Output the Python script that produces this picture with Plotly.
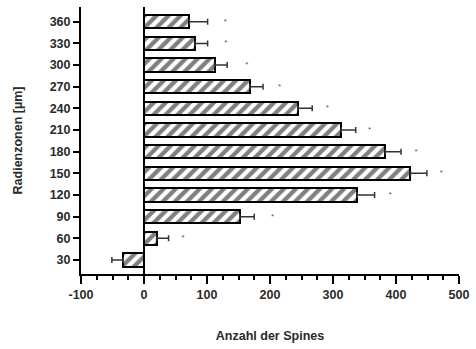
import plotly.graph_objects as go

zones = [30, 60, 90, 120, 150, 180, 210, 240, 270, 300, 330, 360]
zone_labels = [str(z) for z in zones]
spines = [-33, 20, 152, 338, 423, 383, 313, 244, 168, 112, 81, 72]
err_plus = [0, 19, 23, 28, 26, 25, 23, 23, 21, 20, 20, 29]
err_minus = [18, 0, 0, 0, 0, 0, 0, 0, 0, 0, 0, 0]
sig_x = [None, 62, 204, 391, 472, 432, 358, 291, 215, 163, 130, 129]
sig_text = ["", "*", "*", "*", "*", "*", "*", "*", "*", "*", "*", "*"]
x_ticks = [-100, 0, 100, 200, 300, 400, 500]
x_tick_labels = ["-100", "0", "100", "200", "300", "400", "500"]

font_family = "Liberation Sans, Arial, sans-serif"
txt = "#2a2a2a"

fig = go.Figure()
fig.add_trace(go.Bar(
    x=spines, y=zones, orientation="h", width=18.5,
    marker=dict(color="white",
                line=dict(color="black", width=2),
                pattern=dict(shape="/", fgcolor="black", bgcolor="white",
                             size=8.5, solidity=0.5)),
    error_x=dict(type="data", symmetric=False, array=err_plus,
                 arrayminus=err_minus, color="#333333", thickness=1.5, width=3),
    showlegend=False,
))
fig.add_trace(go.Scatter(
    x=[s for s in sig_x if s is not None],
    y=[z for z, s in zip(zones, sig_x) if s is not None],
    mode="text", text=[t for t, s in zip(sig_text, sig_x) if s is not None],
    textfont=dict(size=8, color="#555555", family=font_family),
    textposition="middle center", showlegend=False, hoverinfo="skip",
))

fig.update_layout(
    width=476, height=349,
    margin=dict(l=81, r=10, t=7, b=75),
    paper_bgcolor="white", plot_bgcolor="white",
    font=dict(family=font_family, size=12.5, color=txt),
    bargap=0,
)
fig.update_xaxes(
    range=[-100, 500], tickvals=x_ticks, ticktext=x_tick_labels,
    ticklabeloverflow="allow",
    showgrid=False, showline=True, linecolor="black", linewidth=2,
    ticks="outside", ticklen=8, tickwidth=2, tickcolor="black",
    minor=dict(dtick=25, tick0=0, ticks="outside", ticklen=4, tickwidth=2,
               tickcolor="black", showgrid=False),
    zeroline=True, zerolinecolor="black", zerolinewidth=2,
    tickfont=dict(size=12.5, weight="bold", color=txt),
    title=dict(text="Anzahl der Spines", standoff=30,
               font=dict(size=12.5, weight="bold", color=txt)),
)
fig.update_yaxes(
    range=[10.6, 380.4], tickvals=zones, ticktext=zone_labels,
    showgrid=False, showline=True, linecolor="black", linewidth=2,
    ticks="outside", ticklen=6, tickwidth=2, tickcolor="black",
    zeroline=False,
    tickfont=dict(size=12.5, weight="bold", color=txt),
    title=dict(text="Radienzonen [µm]", standoff=24,
               font=dict(size=12.5, weight="bold", color=txt)),
)

fig.write_html("out.html")
